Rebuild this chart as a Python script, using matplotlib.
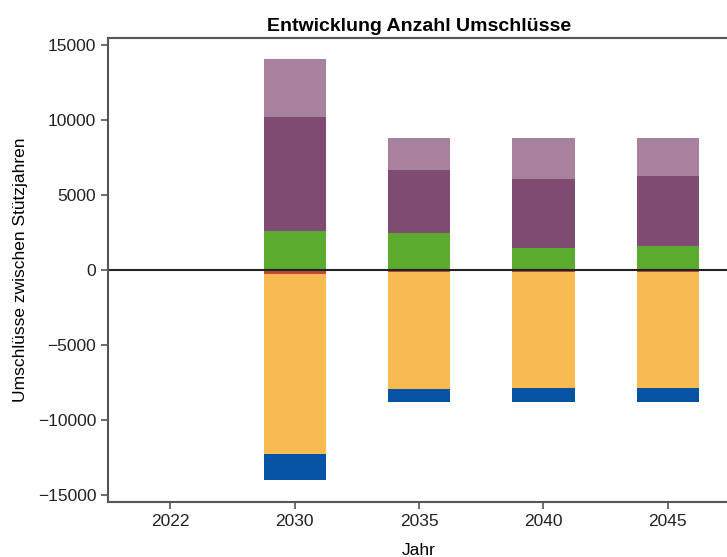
import numpy as np
import matplotlib.pyplot as plt

plt.rcParams['font.family'] = ['Liberation Sans', 'DejaVu Sans']

# Stützjahre
jahre = ['2022', '2030', '2035', '2040', '2045']

# positive Anteile (unten -> oben)
gruen = [0, 2600, 2500, 1500, 1600]
lila_dunkel = [0, 7600, 4200, 4600, 4700]
lila_hell = [0, 3900, 2150, 2700, 2500]

# negative Anteile (oben -> unten)
rot = [0, -300, -150, -150, -150]
orange = [0, -12000, -7800, -7750, -7750]
blau = [0, -1700, -850, -900, -900]

fig = plt.figure(figsize=(7.27, 5.57), dpi=100)
ax = fig.add_axes([108 / 727, 55 / 557, 622 / 727, 464 / 557])

x = np.arange(len(jahre))
w = 0.5

pos_bottom = np.zeros(len(jahre))
for vals, col in [(gruen, '#5aab2e'), (lila_dunkel, '#7f4b73'),
                  (lila_hell, '#a8819e')]:
    ax.bar(x, vals, w, bottom=pos_bottom, color=col)
    pos_bottom += np.array(vals)

neg_bottom = np.zeros(len(jahre))
for vals, col in [(rot, '#c0473a'), (orange, '#f7bb52'), (blau, '#0652a3')]:
    ax.bar(x, vals, w, bottom=neg_bottom, color=col)
    neg_bottom += np.array(vals)

ax.axhline(0, color='#222222', lw=1.5)

ax.set_xlim(-0.5, 4.5)
ax.set_ylim(-15500, 15500)
ax.set_xticks(x)
ax.set_xticklabels(jahre)
ax.set_yticks(np.arange(-15000, 15001, 5000))

for s in ['left', 'bottom', 'top', 'right']:
    ax.spines[s].set_color('#555555')
    ax.spines[s].set_linewidth(1.5)
ax.tick_params(axis='both', labelsize=12.5, color='#555555', length=5,
               direction='out', width=1.2, labelcolor='#222222')

ax.set_title('Entwicklung Anzahl Umschlüsse', fontsize=14, fontweight='bold',
             pad=5)
ax.set_xlabel('Jahr', fontsize=12.5, labelpad=10)
ax.set_ylabel('Umschlüsse zwischen Stützjahren', fontsize=12.5, labelpad=7)

fig.savefig('out.png', dpi=100)
